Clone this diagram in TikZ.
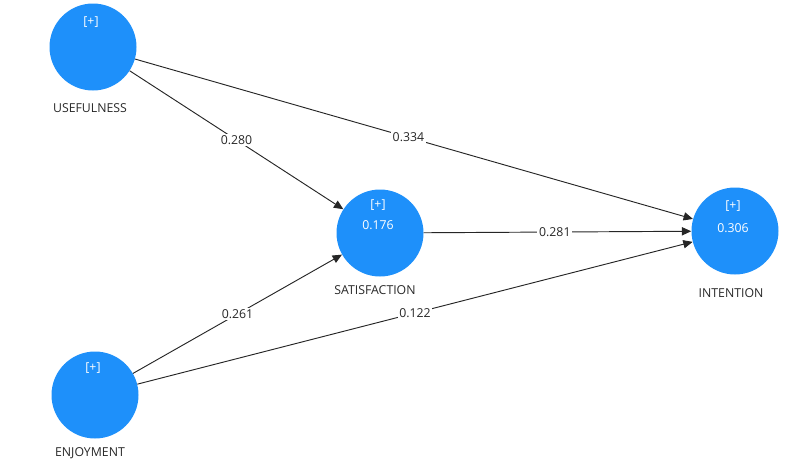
\documentclass[tikz,border=0pt]{standalone}
\usepackage{fontspec}
\setmainfont{Open Sans}
\usetikzlibrary{arrows.meta}
\definecolor{lvblue}{RGB}{30,144,250}
\definecolor{lvtext}{RGB}{40,40,40}

\begin{document}
\begin{tikzpicture}[
    x=0.03cm, y=-0.03cm,
    every node/.style={font=\fontsize{10.5}{12}\selectfont},
    latent/.style={circle, fill=lvblue, minimum size=87*0.03cm, inner sep=0pt},
    lvinner/.style={text=white},
    lvname/.style={text=lvtext},
    pathline/.style={-{Triangle[length=8pt, width=7pt]}, thick, black!85},
    coef/.style={fill=white, inner sep=1.5pt, text=lvtext},
  ]
  \useasboundingbox (0,0) rectangle (786,462);

  \node[latent] (use) at (93,47) {};
  \node[latent] (sat) at (380,233) {};
  \node[latent] (int) at (735,231) {};
  \node[latent] (enj) at (95,395) {};

  \node[lvinner] (useP) at (91,22) {[+]};
  \node[lvinner] (satP) at (378,205) {[+]};
  \node[lvinner] (satR) at (378,225) {0.176};
  \node[lvinner] (intP) at (733,206) {[+]};
  \node[lvinner] (intR) at (733,228) {0.306};
  \node[lvinner] (enjP) at (93,368) {[+]};

  \node[lvname] (useL) at (90,108) {USEFULNESS};
  \node[lvname] (satL) at (375,290) {SATISFACTION};
  \node[lvname] (intL) at (731,293) {INTENTION};
  \node[lvname] (enjL) at (90,453) {ENJOYMENT};

  \draw[pathline] (use) -- node[coef, pos=0.5] {0.280} (sat);
  \draw[pathline] (use) -- node[coef, pos=0.49] {0.334} (int);
  \draw[pathline] (sat) -- node[coef, pos=0.49] {0.281} (int);
  \draw[pathline] (enj) -- node[coef, pos=0.5] {0.261} (sat);
  \draw[pathline] (enj) -- node[coef, pos=0.5] {0.122} (int);
\end{tikzpicture}
\end{document}
